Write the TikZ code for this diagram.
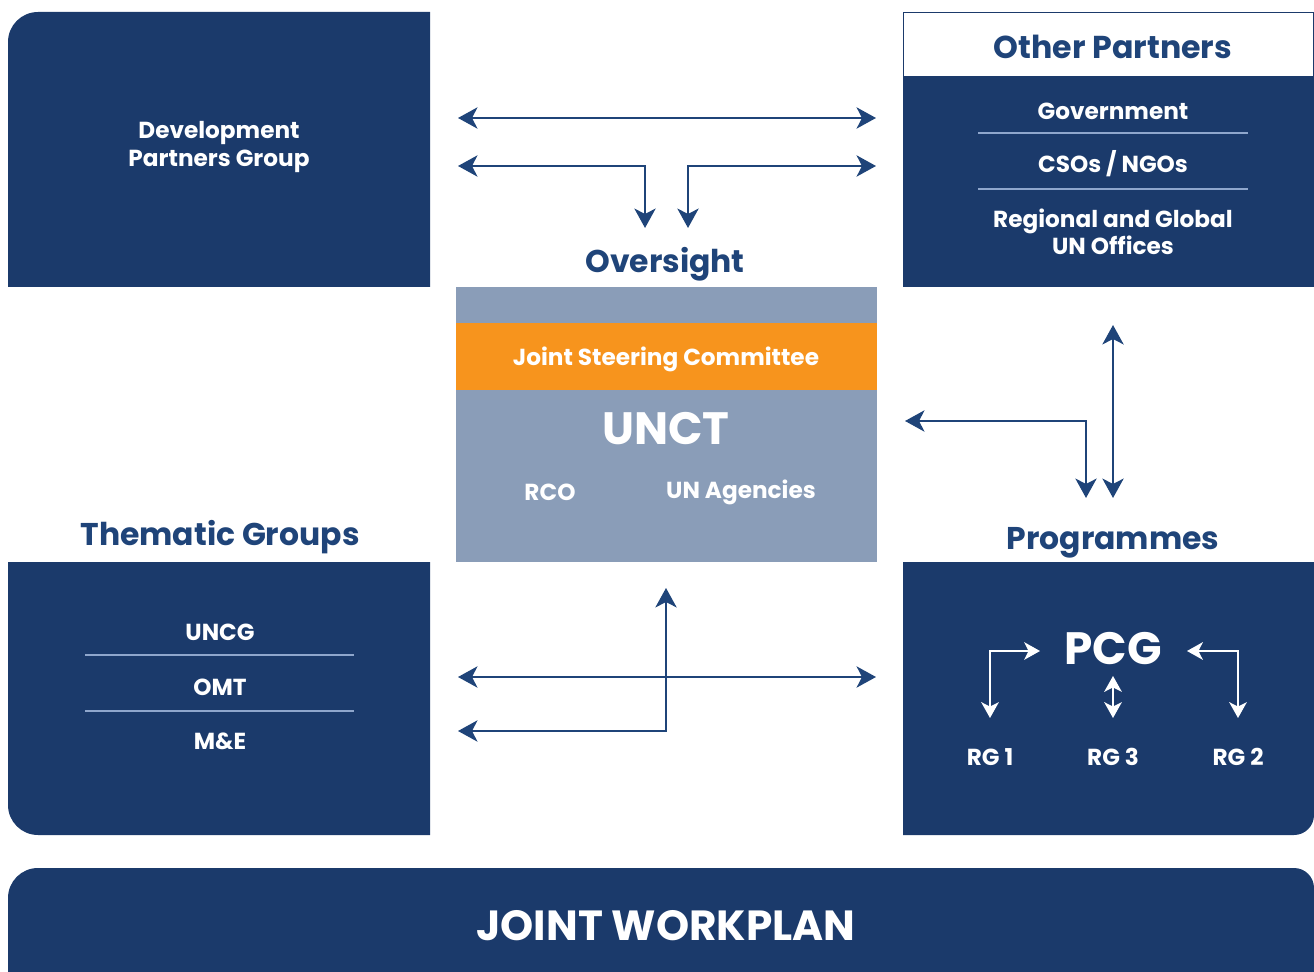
\documentclass[tikz,border=0pt]{standalone}
\usepackage{fontspec}
\setmainfont{Poppins}
\usetikzlibrary{arrows.meta}
\definecolor{navy}{HTML}{1B3A6B}
\definecolor{slate}{HTML}{8A9DB8}
\definecolor{amber}{HTML}{F7941D}
\definecolor{rulecol}{HTML}{8FA6CC}
\definecolor{ink}{HTML}{1F4479}
\tikzset{
  wire/.style={draw=ink, line width=1.6pt, >={Stealth[length=11pt,width=12pt,inset=3pt]}},
  whitewire/.style={draw=white, line width=1.3pt, >={Stealth[length=9pt,width=10pt,inset=2.5pt]}},
  txt/.style={text=white, font=\bfseries\fontsize{13.2}{15.4}\selectfont, align=center, inner sep=0pt},
  heading/.style={text=ink, font=\bfseries\fontsize{17.9}{20}\selectfont, inner sep=0pt},
  bigtxt/.style={text=white, font=\bfseries\fontsize{25.8}{28}\selectfont, inner sep=0pt},
  sep/.style={draw=rulecol, line width=0.8pt}
}
\begin{document}
\begin{tikzpicture}[x=0.02cm, y=-0.02cm]
  \useasboundingbox (0,0) rectangle (1314,972);
  % boxes
  \fill[navy] (430,287) -- (8,287) -- (8,42) arc[start angle=180, end angle=270, radius=30] -- (430,12) -- cycle;
  \draw[navy, line width=1pt, fill=white] (903.5,12.5) rectangle (1314,77);
  \fill[navy] (903,77) rectangle (1314,287);
  \fill[slate] (456,287) rectangle (877,562);
  \fill[amber] (456,323) rectangle (877,390);
  \fill[navy] (8,562) -- (430,562) -- (430,835) -- (38,835) arc[start angle=90, end angle=180, radius=30] -- cycle;
  \fill[navy] (903,562) -- (1314,562) -- (1314,815) arc[start angle=0, end angle=90, radius=20] -- (903,835) -- cycle;
  \fill[navy] (8,972) -- (8,898) arc[start angle=180, end angle=270, radius=30] -- (1294,868) arc[start angle=270, end angle=360, radius=20] -- (1314,972) -- cycle;

  % texts
  \node[txt] (dpg) at (219,147) {Development\\Partners Group};
  \node[heading, font=\bfseries\fontsize{18}{20}\selectfont] (op) at (1113,47) {Other Partners};
  \node[txt] (gov) at (1113,111) {Government};
  \node[txt] (cso) at (1113,164) {CSOs / NGOs};
  \node[txt] (reg) at (1113,232) {Regional and Global\\UN Offices};
  \draw[sep] (978,133) -- (1248,133);
  \draw[sep] (978,189) -- (1248,189);
  \node[heading] (ovs) at (665,264) {Oversight};
  \node[txt] (jsc) at (666,359) {Joint Steering Committee};
  \node[bigtxt] (unct) at (666,429) {UNCT};
  \node[txt] (rco) at (550,492) {RCO};
  \node[txt] (agc) at (741,492) {UN Agencies};
  \node[heading] (tg) at (220,537) {Thematic Groups};
  \node[txt] (uncg) at (220,632) {UNCG};
  \node[txt] (omt) at (220,687) {OMT};
  \node[txt] (me) at (220,741) {M\&E};
  \draw[sep] (85,655) -- (354,655);
  \draw[sep] (85,711) -- (354,711);
  \node[heading] (prg) at (1113,543) {Programmes};
  \node[bigtxt] (pcg) at (1113,649) {PCG};
  \node[txt] (rg1) at (990,757) {RG 1};
  \node[txt] (rg3) at (1113,757) {RG 3};
  \node[txt] (rg2) at (1238,757) {RG 2};
  \node[txt, font=\bfseries\fontsize{24}{26}\selectfont] (jwp) at (666,926) {JOINT WORKPLAN};

  % arrow ends
  \coordinate (a1) at (458,118);
  \coordinate (a2) at (876,118);
  \coordinate (b1) at (458,166);
  \coordinate (b2) at (645,228);
  \coordinate (c1) at (876,166);
  \coordinate (c2) at (688,228);
  \coordinate (d1) at (1113,325);
  \coordinate (d2) at (1113,498);
  \coordinate (e1) at (905,421);
  \coordinate (e2) at (1086,498);
  \coordinate (f1) at (458,677);
  \coordinate (f2) at (876,677);
  \coordinate (g1) at (458,731);
  \coordinate (g2) at (666,588);
  \coordinate (h1) at (1040,651);
  \coordinate (h2) at (990,718);
  \coordinate (k1) at (1187,651);
  \coordinate (k2) at (1238,718);
  \coordinate (m1) at (1113,676);
  \coordinate (m2) at (1113,718);

  \draw[wire,<->] (a1) -- (a2);
  \draw[wire,<->] (b1) -| (b2);
  \draw[wire,<->] (c1) -| (c2);
  \draw[wire,<->] (d1) -- (d2);
  \draw[wire,<->] (e1) -| (e2);
  \draw[wire,<->] (f1) -- (f2);
  \draw[wire,<->] (g1) -| (g2);
  \draw[whitewire,<->] (h1) -| (h2);
  \draw[whitewire,<->] (k1) -| (k2);
  \draw[whitewire,<->] (m1) -- (m2);
\end{tikzpicture}
\end{document}
